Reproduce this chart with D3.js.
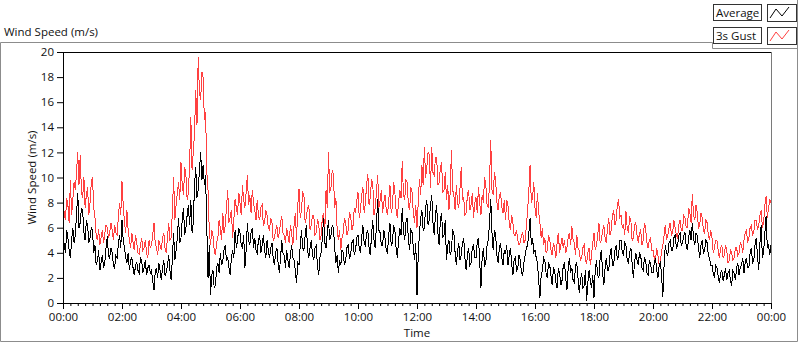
<!DOCTYPE html>
<html lang="en">
<head>
    <meta charset="UTF-8">
    <script src="https://cdn.jsdelivr.net/npm/d3@7"></script>
    <title>Wind Speed (m/s)</title>
    <style>
        html, body {
            margin: 0px;
            padding: 0px;
            background-color: #ffffff;
            font-family: "Open Sans", sans-serif;
        }
        text {
            fill: #111;
        }
    </style>
</head>
<body>
    <div id="chart"></div>
    <script>

        // 2.5 minute samples, one row per hour, 00:00 .. 24:00
        let gust = [
            8.0, 7.2, 6.6, 8.4, 7.8, 6.4, 9.8, 7.0, 8.2, 9.6, 9.0, 10.4, 12.0, 9.4, 11.8, 8.8, 8.4, 10.0, 7.6, 8.6, 9.2, 7.0, 8.0, 9.6,
            10.0, 7.6, 6.8, 5.4, 5.0, 5.9, 4.6, 5.2, 5.8, 4.8, 5.5, 6.2, 6.0, 5.2, 5.6, 6.4, 5.8, 5.0, 6.2, 5.6, 5.4, 6.8, 8.0, 7.0,
            9.7, 7.8, 6.4, 5.6, 7.4, 5.8, 5.0, 4.4, 5.6, 4.8, 4.2, 5.4, 4.8, 4.0, 3.9, 4.6, 5.2, 4.2, 4.4, 5.0, 4.0, 3.6, 5.0, 4.4,
            4.6, 5.4, 6.4, 4.8, 4.4, 3.8, 5.0, 4.6, 4.2, 5.2, 5.6, 4.4, 4.0, 5.2, 6.4, 5.0, 5.2, 7.4, 10.0, 6.6, 7.8, 8.8, 9.6, 8.2,
            11.2, 9.4, 8.6, 10.8, 10.2, 8.2, 8.8, 11.0, 14.8, 10.6, 12.0, 13.6, 17.0, 14.2, 19.6, 16.8, 16.2, 18.4, 18.0, 14.6, 15.2, 10.4, 9.0, 5.8,
            4.6, 5.8, 5.4, 4.2, 3.8, 4.8, 5.2, 6.6, 6.0, 5.0, 7.2, 5.6, 6.2, 7.6, 9.0, 6.4, 6.8, 7.4, 5.2, 6.6, 8.3, 7.6, 7.0, 8.8,
            8.0, 7.0, 9.4, 8.2, 7.6, 8.8, 10.2, 7.8, 8.6, 7.2, 9.0, 8.0, 7.4, 6.6, 8.2, 7.0, 6.6, 7.6, 7.8, 6.2, 6.4, 7.4, 7.0, 6.0,
            5.8, 6.8, 6.4, 5.0, 5.2, 5.8, 6.2, 5.2, 5.6, 6.4, 6.9, 5.6, 5.4, 4.8, 6.0, 5.4, 4.8, 6.2, 5.6, 4.6, 6.2, 7.2, 5.0, 7.8,
            9.1, 6.8, 7.4, 8.8, 8.6, 6.4, 6.8, 7.6, 7.8, 5.8, 6.2, 7.0, 7.0, 5.4, 5.6, 6.6, 6.4, 5.0, 5.4, 6.8, 7.2, 5.8, 9.0, 7.6,
            12.0, 8.8, 9.2, 10.6, 10.2, 7.6, 8.4, 6.0, 5.0, 5.8, 4.2, 5.2, 5.6, 6.8, 6.4, 5.4, 5.8, 7.2, 7.0, 5.8, 6.2, 7.6, 7.2, 8.2,
            8.8, 6.8, 7.4, 8.6, 9.2, 7.2, 8.0, 9.4, 10.3, 7.8, 8.4, 9.8, 9.6, 7.0, 7.6, 8.8, 10.2, 7.6, 8.2, 9.0, 7.2, 8.0, 8.6, 7.4,
            7.0, 8.2, 9.4, 7.2, 7.6, 9.6, 8.8, 7.4, 6.8, 8.0, 9.0, 8.4, 11.3, 8.6, 8.2, 9.8, 9.6, 7.8, 7.4, 9.2, 8.8, 7.2, 6.4, 7.8,
            6.0, 8.0, 9.9, 8.6, 11.0, 9.4, 12.4, 10.0, 10.8, 12.0, 11.8, 9.2, 12.4, 10.4, 10.2, 11.6, 11.6, 9.4, 9.6, 10.8, 11.2, 8.8, 9.0, 10.4,
            8.2, 9.4, 7.4, 8.8, 12.2, 9.0, 8.6, 7.4, 9.4, 8.0, 7.6, 9.2, 10.8, 8.2, 8.4, 7.0, 7.2, 8.6, 9.0, 7.4, 7.8, 8.8, 6.8, 8.0,
            8.4, 7.2, 9.2, 8.0, 7.0, 8.6, 8.0, 10.0, 9.4, 7.8, 7.6, 9.6, 13.0, 9.0, 8.6, 10.4, 9.8, 8.0, 7.4, 8.6, 8.8, 7.6, 7.2, 8.2,
            6.6, 8.2, 7.8, 6.4, 5.8, 7.0, 6.4, 5.4, 5.4, 5.8, 5.0, 4.6, 4.8, 5.4, 5.6, 4.8, 5.0, 6.2, 7.4, 9.0, 11.0, 8.0, 8.4, 9.6,
            7.6, 6.8, 8.8, 7.2, 6.4, 5.2, 6.0, 4.6, 5.2, 4.0, 4.2, 5.4, 5.0, 4.2, 3.8, 4.8, 4.4, 3.6, 4.8, 5.6, 4.0, 4.6, 5.2, 4.4,
            5.0, 4.0, 4.4, 5.2, 5.6, 4.6, 6.1, 5.0, 4.8, 3.8, 5.4, 4.4, 4.2, 3.4, 3.6, 4.4, 4.6, 3.4, 3.2, 4.0, 4.4, 3.0, 3.8, 4.8,
            5.6, 4.2, 4.6, 5.4, 6.4, 4.8, 5.0, 5.8, 6.2, 5.2, 4.8, 6.0, 6.8, 5.4, 5.8, 7.0, 7.4, 6.2, 6.6, 7.8, 8.3, 6.8, 7.0, 6.0,
            6.2, 5.4, 7.3, 6.0, 5.6, 6.8, 6.6, 5.0, 5.2, 6.2, 6.4, 5.4, 4.8, 5.6, 5.8, 4.6, 5.0, 6.4, 6.0, 4.8, 4.4, 5.0, 5.2, 4.2,
            4.2, 3.6, 3.4, 4.4, 3.8, 3.0, 3.2, 4.2, 4.6, 5.4, 6.2, 5.0, 5.4, 6.0, 6.4, 5.4, 5.6, 6.6, 6.0, 5.4, 5.2, 6.2, 6.6, 5.8,
            5.8, 7.0, 6.8, 6.0, 6.0, 7.6, 7.2, 6.4, 8.7, 7.0, 6.6, 7.8, 7.2, 6.0, 6.2, 7.2, 6.8, 5.8, 5.6, 6.6, 6.4, 5.4, 5.0, 5.8,
            5.2, 4.0, 4.4, 5.0, 5.0, 4.2, 3.6, 4.4, 4.6, 3.6, 3.8, 4.6, 4.2, 3.2, 3.4, 4.2, 4.0, 3.4, 3.6, 4.4, 4.4, 3.8, 4.0, 4.8,
            4.6, 4.0, 5.0, 5.6, 5.8, 4.8, 5.2, 6.0, 6.2, 5.4, 5.6, 6.6, 6.6, 5.8, 6.2, 7.0, 7.4, 6.0, 6.4, 7.8, 8.5, 6.8, 7.6, 8.2,
            8.0
        ];

        let average = [
            5.6, 4.6, 4.0, 5.8, 5.2, 4.2, 3.6, 5.0, 6.0, 4.8, 5.4, 7.0, 8.8, 6.0, 6.4, 7.6, 7.3, 5.6, 5.0, 6.6, 6.2, 4.8, 5.2, 6.0,
            5.8, 4.0, 4.6, 3.0, 3.4, 4.2, 2.6, 3.2, 3.8, 2.8, 3.2, 4.4, 5.3, 3.8, 3.6, 4.4, 4.0, 3.0, 2.8, 3.8, 3.6, 4.6, 5.4, 4.4,
            6.6, 5.0, 4.4, 3.6, 3.2, 4.0, 2.6, 3.4, 3.6, 2.8, 2.2, 3.0, 3.2, 2.6, 2.4, 3.6, 3.4, 2.4, 2.8, 3.4, 2.2, 2.8, 3.0, 2.4,
            2.6, 1.8, 1.0, 2.4, 2.8, 2.0, 3.2, 2.6, 1.8, 2.8, 3.4, 2.2, 2.4, 3.0, 3.8, 2.6, 1.8, 3.6, 5.6, 3.4, 4.2, 5.2, 6.8, 4.8,
            5.2, 6.6, 7.6, 5.4, 6.0, 7.0, 7.8, 6.2, 8.2, 5.6, 6.4, 9.4, 10.8, 8.4, 9.0, 10.6, 12.0, 9.8, 11.0, 9.4, 10.2, 6.0, 2.0, 4.6,
            0.6, 2.2, 2.6, 1.2, 1.4, 2.8, 3.2, 2.4, 4.0, 3.0, 3.4, 4.2, 4.6, 3.4, 3.6, 2.8, 2.2, 3.6, 4.2, 3.6, 5.8, 4.4, 5.0, 6.0,
            5.6, 4.6, 4.4, 5.4, 2.8, 4.2, 6.4, 5.0, 4.6, 5.6, 6.0, 4.4, 5.2, 4.2, 4.0, 5.0, 5.4, 4.0, 4.6, 5.4, 4.2, 3.6, 5.0, 4.2,
            3.6, 4.4, 4.8, 3.6, 3.0, 4.0, 4.4, 3.2, 2.4, 3.6, 5.0, 4.0, 3.8, 2.8, 4.2, 3.4, 2.8, 3.8, 4.6, 3.6, 3.4, 2.6, 1.6, 3.2,
            3.0, 4.6, 5.8, 4.4, 4.2, 5.4, 6.2, 4.2, 3.6, 4.4, 5.0, 3.8, 3.4, 4.4, 4.6, 3.0, 2.2, 3.6, 4.0, 5.2, 6.8, 4.8, 4.4, 5.6,
            6.6, 5.0, 5.4, 6.2, 6.0, 4.4, 3.2, 3.8, 2.4, 3.4, 3.0, 4.2, 4.0, 3.0, 3.4, 4.4, 4.6, 3.6, 3.8, 4.8, 5.0, 3.8, 4.2, 5.2,
            5.4, 4.4, 4.0, 5.2, 6.2, 4.8, 4.6, 5.6, 5.8, 4.4, 3.8, 5.4, 6.6, 5.0, 4.4, 6.2, 8.3, 5.8, 5.6, 4.6, 4.6, 5.8, 5.2, 4.2,
            4.0, 5.4, 6.4, 4.6, 4.8, 6.2, 5.8, 4.4, 3.6, 5.0, 6.0, 5.4, 7.6, 5.8, 5.0, 6.4, 6.8, 5.0, 4.2, 5.8, 5.6, 4.4, 3.4, 4.8,
            0.6, 3.8, 5.6, 6.8, 7.4, 5.8, 6.0, 7.6, 8.2, 6.2, 6.6, 7.8, 8.6, 6.4, 5.4, 7.0, 7.8, 5.6, 4.6, 6.6, 7.2, 5.2, 5.4, 6.6,
            3.4, 4.6, 5.0, 3.8, 4.2, 5.8, 5.6, 4.0, 3.0, 4.2, 4.8, 3.4, 3.8, 4.8, 5.2, 3.6, 2.6, 3.8, 4.4, 3.0, 3.2, 4.4, 4.6, 3.6,
            3.6, 4.8, 5.2, 3.4, 1.2, 3.6, 4.4, 3.0, 3.2, 4.6, 5.0, 6.4, 8.3, 5.6, 4.2, 5.8, 5.4, 3.8, 3.2, 4.4, 4.8, 3.6, 3.0, 4.2,
            4.0, 4.6, 3.0, 3.8, 4.4, 3.2, 2.2, 3.4, 3.6, 2.6, 2.8, 3.8, 3.4, 2.4, 2.2, 3.2, 3.8, 4.4, 4.6, 5.6, 6.8, 4.6, 5.2, 4.0,
            4.2, 3.6, 3.2, 1.8, 0.4, 2.2, 2.6, 3.6, 3.4, 2.4, 2.0, 3.2, 3.0, 2.2, 1.4, 2.8, 2.6, 1.6, 1.2, 2.8, 2.4, 1.4, 1.8, 3.0,
            3.2, 2.0, 1.0, 2.8, 3.6, 2.4, 2.8, 1.8, 1.6, 3.0, 3.2, 2.0, 0.8, 1.8, 2.4, 1.2, 1.4, 2.6, 0.2, 1.6, 2.6, 1.8, 1.2, 2.2,
            0.4, 2.6, 3.4, 2.2, 2.0, 3.6, 4.2, 2.4, 1.4, 2.8, 3.6, 2.6, 2.6, 3.8, 4.4, 3.0, 3.0, 4.2, 4.6, 3.4, 3.8, 5.0, 5.0, 4.0,
            3.8, 4.8, 4.6, 3.4, 3.2, 4.0, 4.4, 3.2, 2.0, 3.2, 4.0, 3.4, 3.0, 4.0, 3.8, 2.8, 2.6, 3.6, 3.4, 2.4, 2.2, 3.4, 3.2, 2.4,
            2.4, 3.2, 3.6, 2.6, 2.0, 3.0, 3.2, 2.2, 0.5, 3.0, 4.6, 4.0, 3.8, 4.8, 5.0, 4.2, 4.2, 5.2, 5.4, 4.4, 4.6, 5.4, 5.6, 4.6,
            4.8, 5.4, 5.6, 4.6, 4.2, 5.2, 5.8, 5.0, 6.4, 5.2, 4.6, 5.6, 5.4, 4.4, 3.6, 4.6, 5.0, 4.0, 4.2, 5.0, 4.8, 3.8, 3.6, 3.0,
            3.0, 2.4, 2.0, 3.0, 2.8, 2.2, 1.6, 2.4, 2.6, 1.8, 2.2, 2.8, 1.8, 2.4, 2.6, 1.8, 1.4, 2.6, 2.4, 1.8, 2.8, 3.2, 2.2, 2.8,
            3.0, 3.6, 2.4, 3.2, 3.6, 2.8, 2.8, 4.0, 4.4, 3.2, 3.4, 4.6, 5.2, 3.8, 2.6, 4.8, 6.2, 3.6, 4.0, 5.6, 6.9, 4.4, 4.6, 3.8,
            4.6
        ];

        let y_ticks = [0, 2, 4, 6, 8, 10, 12, 14, 16, 18, 20];
        let legend_names = ['Average', '3s Gust'];
        let legend_colours = ['#000000', '#ff4040'];

        let width = 800;
        let height = 342;
        let margin = { left: 63, right: 29, top: 52, bottom: 39 };

        let svg = d3.select('#chart').append('svg').attr('width', width).attr('height', height);

        let start = new Date(2000, 0, 1, 0, 0);
        let end = new Date(2000, 0, 2, 0, 0);

        let x = d3.scaleTime().domain([start, end]).range([margin.left, width - margin.right]);
        let y = d3.scaleLinear().domain([0, 20]).range([height - margin.bottom, margin.top]);

        // samples are evenly spread over the day
        let time_of = (i, n) => new Date(start.getTime() + i * (end - start) / (n - 1));

        // outer panel
        svg.append('path')
            .attr('d', 'M0.5,341.5 V42.5 H712.5 V48.5 H797.5 V341.5 Z')
            .attr('fill', 'none')
            .attr('stroke', '#8c8c8c');
        svg.append('line')
            .attr('x1', 797.5).attr('x2', 797.5).attr('y1', 0).attr('y2', 49)
            .attr('stroke', '#8c8c8c');

        svg.append('text')
            .attr('x', 4).attr('y', 36)
            .attr('font-size', '11.5px')
            .text('Wind Speed (m/s)');

        svg.append('clipPath').attr('id', 'clip')
            .append('rect')
            .attr('x', margin.left).attr('y', margin.top)
            .attr('width', x.range()[1] - margin.left)
            .attr('height', y(0) - margin.top);

        let line = d3.line()
            .x((d, i, arr) => x(time_of(i, arr.length)))
            .y((d) => y(d));

        let plot = svg.append('g').attr('clip-path', 'url(#clip)');

        plot.append('path')
            .datum(gust)
            .attr('d', line)
            .attr('fill', 'none')
            .attr('stroke', legend_colours[1])
            .attr('stroke-width', 1)
            .attr('shape-rendering', 'crispEdges');

        plot.append('path')
            .datum(average)
            .attr('d', line)
            .attr('fill', 'none')
            .attr('stroke', legend_colours[0])
            .attr('stroke-width', 1)
            .attr('shape-rendering', 'crispEdges');

        svg.append('line')
            .attr('x1', margin.left).attr('x2', x.range()[1] + 1)
            .attr('y1', margin.top + 0.5).attr('y2', margin.top + 0.5)
            .attr('stroke', '#000');
        svg.append('line')
            .attr('x1', x.range()[1] + 0.5).attr('x2', x.range()[1] + 0.5)
            .attr('y1', margin.top).attr('y2', y(0))
            .attr('stroke', '#7a7a7a');

        // y axis
        let y_axis = svg.append('g')
            .attr('transform', `translate(${margin.left},0)`)
            .call(d3.axisLeft(y).tickValues(y_ticks).tickSize(6).tickPadding(3).tickSizeOuter(0));
        y_axis.select('.domain').attr('stroke', '#000');
        y_axis.selectAll('text').attr('font-size', '11.5px').attr('font-family', '"Open Sans", sans-serif');

        // x axis, minor ticks every 15 min
        let x_minor = svg.append('g')
            .attr('transform', `translate(0,${y(0)})`)
            .call(d3.axisBottom(x).ticks(d3.timeMinute.every(15)).tickSize(3).tickFormat('').tickSizeOuter(0));
        x_minor.select('.domain').remove();

        let x_axis = svg.append('g')
            .attr('transform', `translate(0,${y(0)})`)
            .call(d3.axisBottom(x).ticks(d3.timeHour.every(2)).tickSize(6).tickPadding(4)
                .tickFormat(d3.timeFormat('%H:%M')).tickSizeOuter(0));
        x_axis.select('.domain').attr('stroke', '#000');
        x_axis.selectAll('text').attr('font-size', '11.5px').attr('font-family', '"Open Sans", sans-serif');

        svg.append('text')
            .attr('x', (margin.left + x.range()[1]) / 2)
            .attr('y', 337)
            .attr('text-anchor', 'middle')
            .attr('font-size', '11.5px')
            .text('Time');

        svg.append('text')
            .attr('transform', `translate(36,${(margin.top + y(0)) / 2}) rotate(-90)`)
            .attr('text-anchor', 'middle')
            .attr('font-size', '11.5px')
            .text('Wind Speed (m/s)');

        // legend
        let legend = svg.append('g');
        legend_names.forEach((name, i) => {
            let top = 4 + i * 23;
            legend.append('rect')
                .attr('x', 713.5).attr('y', top + 0.5)
                .attr('width', 48).attr('height', 16)
                .attr('fill', '#fff').attr('stroke', '#333');
            legend.append('text')
                .attr('x', 716).attr('y', top + 13)
                .attr('font-size', '11.5px')
                .text(name);
            legend.append('rect')
                .attr('x', 767.5).attr('y', top + 0.5)
                .attr('width', 29).attr('height', 17)
                .attr('fill', '#fff').attr('stroke', '#333');
            legend.append('path')
                .attr('d', `M770,${top + 14} L776,${top + 5} L782,${top + 12} L789,${top + 3}`)
                .attr('fill', 'none')
                .attr('stroke', legend_colours[i]);
        });

    </script>
</body>
</html>
